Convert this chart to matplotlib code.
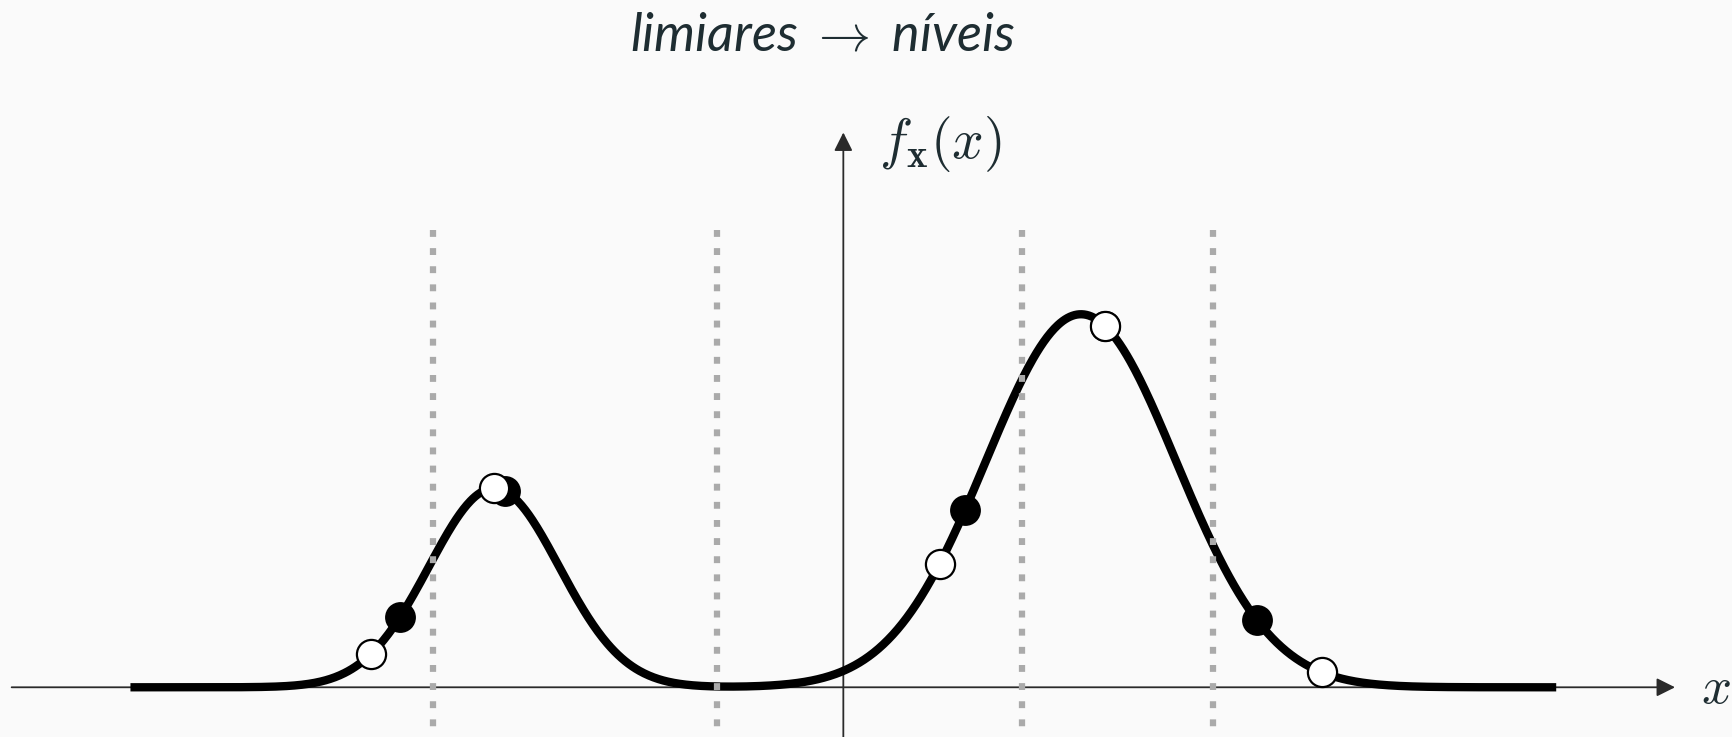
import numpy as np
import matplotlib.pyplot as plt

# Gaussian mixture
weights = [0.263, 0.72]
means = [-1.47, 1.0]
sigmas = [0.274, 0.40]

# old levels (white), new levels (black), thresholds (midpoints of old levels)
old_levels = [-1.986, -1.47, 0.405, 1.10, 2.014]
new_levels = [-1.865, -1.423, 0.512, 1.10, 1.74]
thresholds = [(a + b) / 2 for a, b in zip(old_levels[:-1], old_levels[1:])]

x_range = (-3.0, 3.0)


def pdf(x):
    x = np.asarray(x, dtype=float)
    out = np.zeros_like(x)
    for w, m, s in zip(weights, means, sigmas):
        out += w * np.exp(-0.5 * ((x - m) / s) ** 2) / (s * np.sqrt(2 * np.pi))
    return out


bg = '#fafafa'
txt = '#1e2d32'
plt.rcParams['mathtext.fontset'] = 'cm'

fig = plt.figure(figsize=(17.33, 7.37), dpi=100, facecolor=bg)
ax = fig.add_axes([0, 0, 1, 1])
ax.set_facecolor(bg)
ax.set_xlim(-3.549, 3.744)
ax.set_ylim(-0.0957, 1.323)
ax.axis('off')

# axes with arrows
arrow = dict(arrowstyle='-|>', lw=1.3, color='#2a2a2a', mutation_scale=28,
             shrinkA=0, shrinkB=0)
ax.annotate('', xy=(3.5, 0), xytext=(-3.5, 0), arrowprops=arrow, zorder=1)
ax.annotate('', xy=(0, 1.068), xytext=(0, -0.2), arrowprops=arrow, zorder=1)

# density curve
xs = np.linspace(x_range[0], x_range[1], 1200)
ax.plot(xs, pdf(xs), color='black', lw=6, solid_capstyle='butt', zorder=2)

# thresholds (drawn top-down so the dash pattern starts at the top)
for t in thresholds:
    ax.plot([t, t], [0.88, -0.2], color='#aaaaaa', lw=4.5,
            linestyle=(0, (1.1, 1.8)), zorder=3)

# levels
ax.plot(new_levels, pdf(new_levels), 'o', ms=21, mfc='black', mec='black',
        mew=1.2, zorder=4)
ax.plot(old_levels, pdf(old_levels), 'o', ms=21, mfc='white', mec='black',
        mew=1.6, zorder=5)

ax.text(3.67, -0.002, '$x$', fontsize=38, color=txt, ha='center', va='center')
ax.text(0.149, 1.045, r'$f_{\mathbf{x}}(x)$', fontsize=40, color=txt,
        ha='left', va='center')

fig.text(0.4745, 0.952, r'limiares $\rightarrow$ níveis', fontsize=37.5,
         style='italic', family=['Lato', 'DejaVu Sans'], color=txt,
         ha='center', va='center')

fig.savefig('out.png', dpi=100, facecolor=bg)
